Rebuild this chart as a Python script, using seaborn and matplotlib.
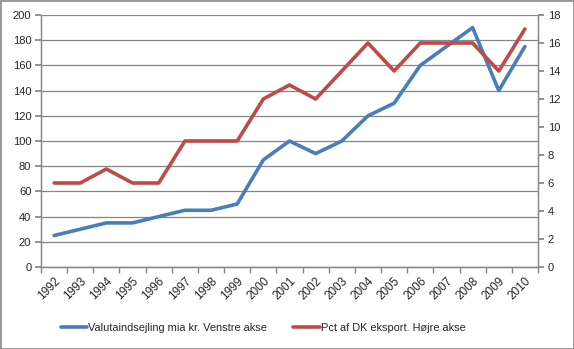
import matplotlib
matplotlib.use("Agg")
import matplotlib.pyplot as plt
import seaborn as sns
import pandas as pd
import numpy as np
from matplotlib.lines import Line2D

years = [str(y) for y in range(1992, 2011)]
valuta = [25, 30, 35, 35, 40, 45, 45, 50, 85, 100, 90, 100, 120, 130, 160, 175, 190, 140, 175]
pct = [6, 6, 7, 6, 6, 9, 9, 9, 12, 13, 12, 14, 16, 14, 16, 16, 16, 14, 17]
label_left = "Valutaindsejling mia kr. Venstre akse"
label_right = "Pct af DK eksport. Højre akse"

sns.set_theme(style="white")
plt.rcParams['font.family'] = ['Liberation Sans', 'DejaVu Sans']

blue = "#4a7ebb"
red = "#be4b48"
grid = "#868686"

fig = plt.figure(figsize=(5.74, 3.49), dpi=100)
fig.patch.set_facecolor("white")
ax = fig.add_axes([41/574, 1-267/349, (538-41)/574, (267-15)/349])
ax2 = ax.twinx()

x = np.arange(len(years))
df = pd.DataFrame({"x": x, "valuta": valuta, "pct": pct})
sns.lineplot(data=df, x="x", y="valuta", ax=ax, color=blue, linewidth=2.6, legend=False)
sns.lineplot(data=df, x="x", y="pct", ax=ax2, color=red, linewidth=2.6, legend=False)

ax.set_xlim(-0.5, len(years) - 0.5)
ax.set_ylim(0, 200)
ax2.set_ylim(0, 18)
ax.set_yticks(range(0, 201, 20))
ax2.set_yticks(range(0, 19, 2))
ax.set_xticks(x)
ax.set_xticklabels(years, rotation=45, ha="right", rotation_mode="anchor", fontsize=8.5)
ax.set_xticks(np.arange(-0.5, len(years), 1), minor=True)
ax.tick_params(axis="x", which="major", length=0, pad=6)
ax.tick_params(axis="x", which="minor", length=4, color=grid, direction="out", bottom=True)
ax.tick_params(axis="y", length=4, color=grid, direction="out", labelsize=8, pad=3, left=True)
ax2.tick_params(axis="y", length=4, color=grid, direction="out", labelsize=8, pad=3, right=True)
ax.set_xlabel("")
ax.set_ylabel("")
ax2.set_ylabel("")
ax.grid(axis="y", color=grid, linewidth=0.9)
ax.set_axisbelow(True)
for a in (ax, ax2):
    a.spines["top"].set_visible(False)
    for s in ("left", "right", "bottom"):
        a.spines[s].set_color(grid)
        a.spines[s].set_linewidth(0.9)

handles = [Line2D([], [], color=blue, linewidth=2.6), Line2D([], [], color=red, linewidth=2.6)]
fig.legend(handles, [label_left, label_right], loc="center", bbox_to_anchor=(263/574, 1-328/349),
           ncol=2, frameon=False, fontsize=7.9, handlelength=2.4, handletextpad=0.1, columnspacing=2.4)

border = plt.Rectangle((0.5/574, 0.5/349), 1-1/574, 1-1/349, transform=fig.transFigure,
                       fill=False, edgecolor=grid, linewidth=1.2)
fig.patches.append(border)

fig.savefig("out.png", dpi=100)
